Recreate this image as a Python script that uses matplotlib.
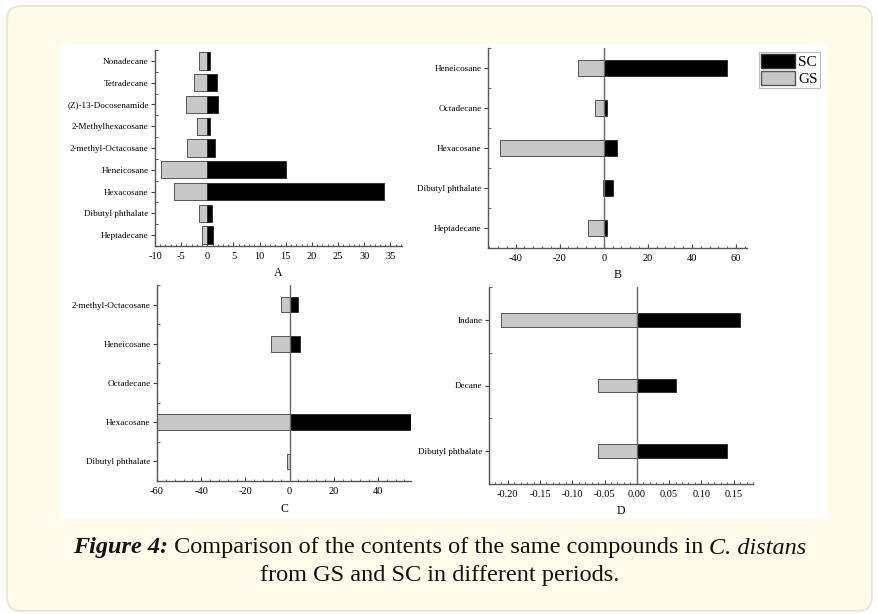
import matplotlib
matplotlib.use('Agg')
import matplotlib.pyplot as plt
import matplotlib.patches as mpatches
from matplotlib.ticker import MultipleLocator, FormatStrFormatter

plt.rcParams['axes.unicode_minus'] = False

W, H = 879, 614

# ---- data ----
a_names = ['Heptadecane', 'Dibutyl phthalate', 'Hexacosane', 'Heneicosane',
           '2-methyl-Octacosane', '2-Methylhexacosane', '(Z)-13-Docosenamide',
           'Tetradecane', 'Nonadecane']
a_sc = [1.15, 0.8, 33.8, 15.0, 1.45, 0.5, 2.1, 1.8, 0.45]
a_gs = [-1.1, -1.5, -6.4, -8.8, -3.8, -2.0, -4.05, -2.5, -1.5]

b_names = ['Heptadecane', 'Dibutyl phthalate', 'Hexacosane', 'Octadecane', 'Heneicosane']
b_sc = [1.65, 4.1, 5.9, 1.35, 56.1]
b_gs = [-7.1, -0.3, -47.0, -4.1, -11.8]

c_names = ['Dibutyl phthalate', 'Hexacosane', 'Octadecane', 'Heneicosane', '2-methyl-Octacosane']
c_sc = [0.3, 54.8, 0.0, 4.6, 4.0]
c_gs = [-1.0, -60.0, 0.0, -8.4, -3.7]

d_names = ['Dibutyl phthalate', 'Decane', 'Indane']
d_sc = [0.14, 0.06, 0.16]
d_gs = [-0.06, -0.06, -0.21]

SC_COL = '#000000'
GS_COL = '#c8c8c8'
SERIF = ['Liberation Serif', 'DejaVu Serif']

fig = plt.figure(figsize=(W / 100, H / 100), dpi=100)
fig.patch.set_facecolor('white')

# card background and white picture area (kept behind the axes)
card = mpatches.FancyBboxPatch((7, H - 611), 865, 605, boxstyle='round,pad=0,rounding_size=14',
                               transform=None, facecolor='#fefbe9', edgecolor='#ece8d8',
                               linewidth=1.5, zorder=-2)
fig.patches.append(card)
white = mpatches.Rectangle((60, H - 519), 767, 475, transform=None,
                           facecolor='white', edgecolor='none', zorder=-1)
fig.patches.append(white)


def rect(l, t, r, b):
    return [l / W, 1 - b / H, (r - l) / W, (b - t) / H]


def panel(box, names, sc, gs, xlim, major, minor, bh, letter, zero_line=True, fmt=None):
    ax = fig.add_axes(rect(*box))
    ax.set_facecolor('none')
    y = list(range(len(names)))
    ax.barh(y, gs, height=bh, color=GS_COL, edgecolor='#555555', linewidth=0.7, zorder=2)
    ax.barh(y, sc, height=bh, color=SC_COL, edgecolor='#333333', linewidth=0.7, zorder=2)
    if zero_line:
        ax.axvline(0, color='#666666', linewidth=1.0, zorder=3)
    ax.set_xlim(*xlim)
    ax.set_ylim(-0.5, len(names) - 0.5)
    ax.set_yticks(y)
    ax.set_yticklabels(names, family=SERIF, fontsize=6.6)
    ax.xaxis.set_major_locator(MultipleLocator(major))
    ax.xaxis.set_minor_locator(MultipleLocator(minor))
    ax.yaxis.set_minor_locator(MultipleLocator(0.5))
    if fmt:
        ax.xaxis.set_major_formatter(fmt)
    for lab in ax.get_xticklabels():
        lab.set_family(SERIF)
        lab.set_fontsize(7.5)
    ax.tick_params(axis='x', which='major', direction='in', length=3, width=0.8,
                   color='#444444', pad=4)
    ax.tick_params(axis='x', which='minor', direction='in', length=1.5, width=0.6,
                   color='#444444')
    ax.tick_params(axis='y', which='major', direction='out', length=3, width=0.8,
                   color='#444444', pad=1.5)
    ax.tick_params(axis='y', which='minor', direction='in', length=2, width=0.6,
                   color='#444444')
    for s in ['top', 'right']:
        ax.spines[s].set_visible(False)
    for s in ['left', 'bottom']:
        ax.spines[s].set_color('#555555')
        ax.spines[s].set_linewidth(1.0)
    ax.set_xlabel(letter, family=SERIF, fontsize=8.5, labelpad=5)
    return ax


panel((155, 50, 402, 246), a_names, a_sc, a_gs, (-10, 37.2), 5, 1, 0.8, 'A', zero_line=False)
panel((488, 48, 747, 248), b_names, b_sc, b_gs, (-52.5, 65), 20, 4, 0.42, 'B')
panel((157, 285, 411, 481), c_names, c_sc, c_gs, (-60, 55), 20, 4, 0.4, 'C')
panel((489, 287, 753, 484), d_names, d_sc, d_gs, (-0.229, 0.18), 0.05, 0.01, 0.21, 'D',
      fmt=FormatStrFormatter('%.2f'))

handles = [mpatches.Patch(facecolor=SC_COL, edgecolor='#333333', label='SC'),
           mpatches.Patch(facecolor=GS_COL, edgecolor='#555555', label='GS')]
leg = fig.legend(handles=handles, loc='upper left', bbox_to_anchor=(759 / W, 1 - 52 / H),
                 prop={'family': SERIF, 'size': 11}, frameon=True, fancybox=False,
                 edgecolor='#aaaaaa', handlelength=2.2, handleheight=1.0,
                 handletextpad=0.2, labelspacing=0.1, borderpad=0.15, borderaxespad=0)
leg.get_frame().set_linewidth(0.8)

# caption, built from pieces and centred
CAP = ['Liberation Serif', 'DejaVu Serif']
renderer = fig.canvas.get_renderer()


def caption_line(pieces, ypix, size=17.5):
    texts = []
    for s, style, weight in pieces:
        t = fig.text(0, 1 - ypix / H, s, fontsize=size, family=CAP, style=style,
                     weight=weight, va='center', ha='left', color='#111111')
        texts.append(t)
    widths = [t.get_window_extent(renderer).width for t in texts]
    x = (W - sum(widths)) / 2
    for t, w in zip(texts, widths):
        t.set_x(x / W)
        x += w


caption_line([('Figure 4:', 'italic', 'bold'),
              (' Comparison of the contents of the same compounds in ', 'normal', 'normal'),
              ('C. distans', 'italic', 'normal')], 548)
caption_line([('from GS and SC in different periods.', 'normal', 'normal')], 576)

fig.savefig('out.png', dpi=100)
